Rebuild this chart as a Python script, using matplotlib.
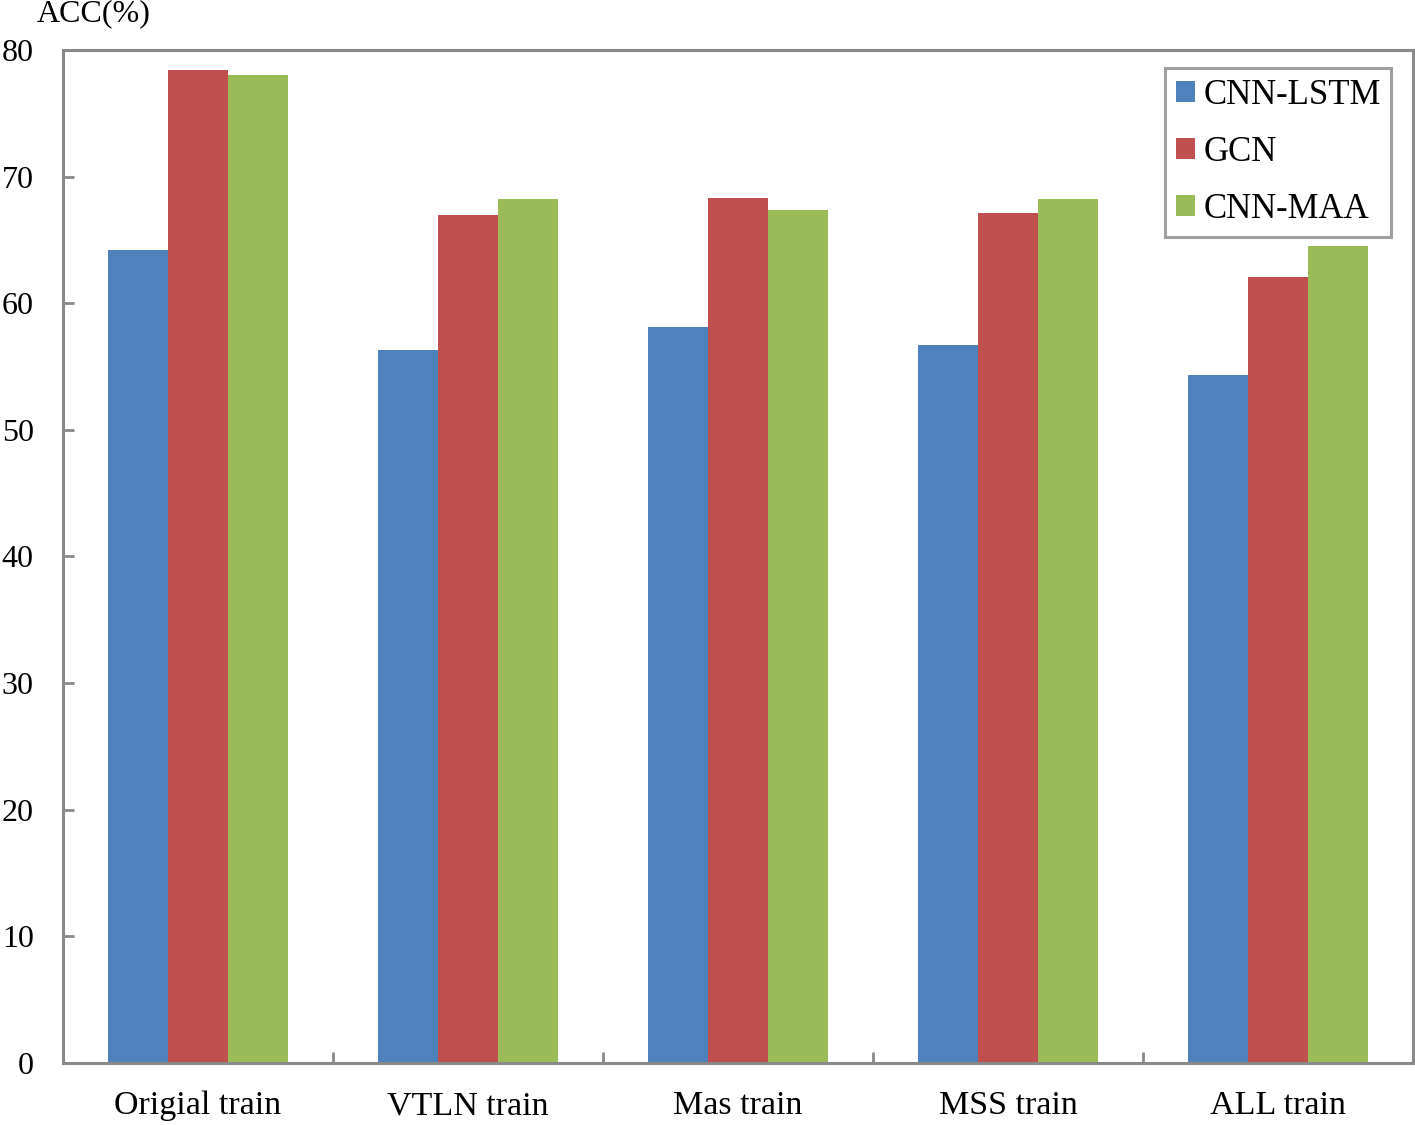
import matplotlib.pyplot as plt
from matplotlib.patches import Patch
import numpy as np

plt.rcParams['font.family'] = ['Liberation Serif', 'DejaVu Serif']

categories = ['Origial train', 'VTLN train', 'Mas train', 'MSS train', 'ALL train']
series_names = ['CNN-LSTM', 'GCN', 'CNN-MAA']
cnn_lstm = [64.2, 56.3, 58.1, 56.7, 54.3]
gcn = [78.4, 67.0, 68.3, 67.1, 62.1]
cnn_maa = [78.0, 68.2, 67.4, 68.2, 64.5]
colors = ['#4F81BD', '#C0504D', '#9BBB59']
frame_col = '#898989'

fig = plt.figure(figsize=(14.15, 11.25), dpi=100)
ax = fig.add_axes([0.0445, 0.0551, 0.9541, 0.9005])

x = np.arange(len(categories))
w = 0.222
for i, vals in enumerate([cnn_lstm, gcn, cnn_maa]):
    ax.bar(x + (i - 1) * w, vals, width=w, color=colors[i], edgecolor='none')

ax.set_xlim(-0.5, len(categories) - 0.5)
ax.set_ylim(0, 80)
ax.set_yticks(range(0, 81, 10))
ax.set_xticks(x)
ax.set_xticklabels(categories)
ax.set_xticks(np.arange(0.5, len(categories) - 1, 1), minor=True)
ax.tick_params(axis='x', which='major', length=0, pad=20, labelsize=24.5)
ax.tick_params(axis='x', which='minor', direction='in', length=8, width=2, color=frame_col)
ax.tick_params(axis='y', direction='in', length=8, width=2, color=frame_col,
               pad=21, labelsize=23)

for s in ax.spines.values():
    s.set_color(frame_col)
    s.set_linewidth(2.2)

handles = [Patch(facecolor=c, edgecolor='none') for c in colors]
leg = ax.legend(handles, series_names, loc='upper right', bbox_to_anchor=(0.984, 0.982),
                borderaxespad=0, fontsize=25, fancybox=False, handlelength=0.55,
                handleheight=0.55, handletextpad=0.25, labelspacing=0.7,
                borderpad=0.3)
leg.get_frame().set_edgecolor(frame_col)
leg.get_frame().set_linewidth(2.2)

fig.text(94 / 1415, 1 - 14 / 1125, 'ACC(%)', ha='center', va='center', fontsize=23)

fig.savefig('out.png', dpi=100)
